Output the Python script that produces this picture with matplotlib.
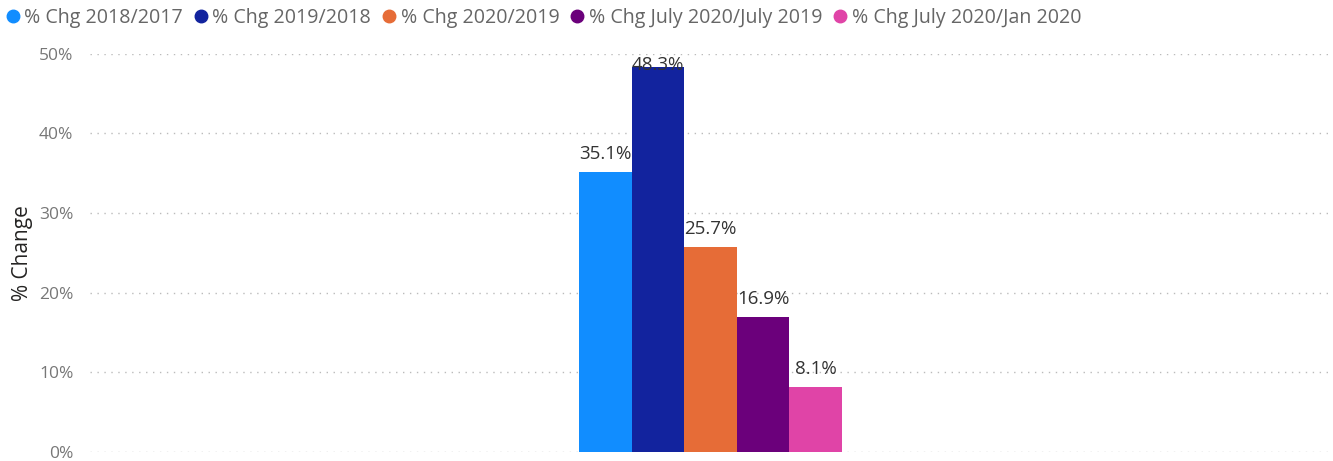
import numpy as np
import matplotlib
matplotlib.use("Agg")
import matplotlib.pyplot as plt
from matplotlib.lines import Line2D

plt.rcParams["font.family"] = ["Open Sans", "DejaVu Sans"]

series = ["% Chg 2018/2017", "% Chg 2019/2018", "% Chg 2020/2019",
          "% Chg July 2020/July 2019", "% Chg July 2020/Jan 2020"]
values = [35.1, 48.3, 25.7, 16.9, 8.1]
colors = ["#118DFF", "#12239E", "#E66C37", "#6B007B", "#E044A7"]
yticks = [0, 10, 20, 30, 40, 50]

fig = plt.figure(figsize=(13.33, 4.61), dpi=100)
ax = fig.add_axes([0.0675, 0.0195, 0.931, 0.864])

w = 0.2
xs = (np.arange(len(values)) - (len(values) - 1) / 2) * w
ax.bar(xs, values, width=w, color=colors, zorder=3)

# value labels sit above each bar, kept inside the top of the plot area
for x, v in zip(xs, values):
    y = min(v + 1.2, 47.4)
    ax.text(x, y, f"{v:.1f}%", ha="center", va="bottom", fontsize=13.5,
            color="#333333", zorder=4, clip_on=False)

ax.set_xlim(-2.357, 2.357)
ax.set_ylim(0, 50)
ax.set_yticks(yticks)
ax.set_yticklabels([f"{t}%" for t in yticks], fontsize=12.5, color="#777777")
ax.tick_params(axis="y", length=0, pad=12)
ax.set_xticks([])
ax.yaxis.grid(True, linestyle=(0, (1, 4)), color="#bbbbbb", lw=1)
for s in ax.spines.values():
    s.set_visible(False)
ax.set_ylabel("% Change", fontsize=15, color="#252423")
ax.yaxis.set_label_coords(-0.046, 0.5)

handles = [Line2D([], [], marker="o", ls="", color=c, markersize=9) for c in colors]
fig.legend(handles, series, loc="upper left", bbox_to_anchor=(0.005, 0.982), ncol=5,
           frameon=False, fontsize=14.1, handletextpad=0.3, columnspacing=0.6,
           labelcolor="#666666", handlelength=0.6, borderpad=0, borderaxespad=0)

fig.savefig("out.png", dpi=100)
